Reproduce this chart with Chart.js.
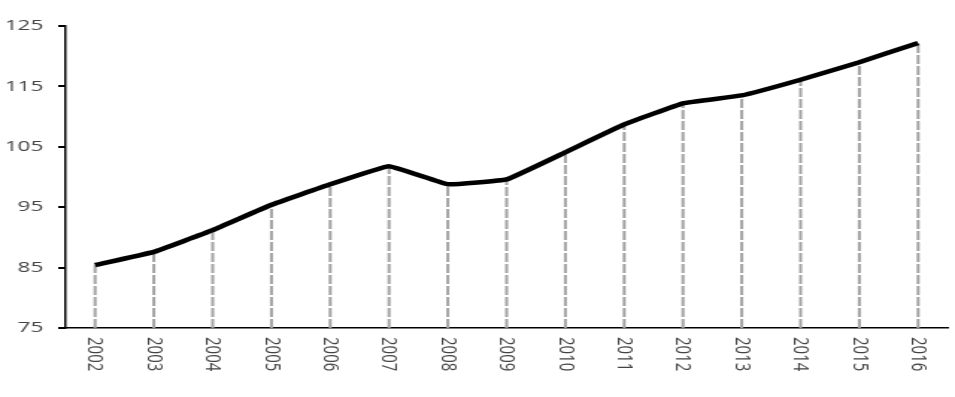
<!DOCTYPE html>
<html lang="en">
<head>
    <meta charset="UTF-8">
    <title>Chart</title>
    <script src="https://cdn.jsdelivr.net/npm/chart.js"></script>
    <style>
        body { margin: 0; background: #fff; }
    </style>
</head>
<body>
    <!-- drawn narrow, then stretched wide like the original picture -->
    <canvas id="myChart" width="640" height="397" style="width:955px;height:397px;display:block"></canvas>
<script>
    var years = ['2002', '2003', '2004', '2005', '2006', '2007', '2008', '2009',
                 '2010', '2011', '2012', '2013', '2014', '2015', '2016'];
    var values = [85.4, 87.6, 91.2, 95.4, 98.8, 101.8, 98.8, 99.6,
                  104.1, 108.7, 112.2, 113.5, 116.1, 119.0, 122.2];
    var yTicks = [75, 85, 95, 105, 115, 125];

    var labelFont = '15px "Open Sans"';
    var labelColor = '#444';

    // grey dashed line from each point down to the axis
    var dropLines = {
        id: 'dropLines',
        beforeDatasetsDraw(chart) {
            var ctx = chart.ctx;
            var bottom = chart.chartArea.bottom;
            ctx.save();
            ctx.strokeStyle = '#a3a3a3';
            ctx.lineWidth = 2;
            ctx.setLineDash([9, 2]);
            chart.getDatasetMeta(0).data.forEach(function(p){
                ctx.beginPath();
                ctx.moveTo(p.x, bottom);
                ctx.lineTo(p.x, p.y);
                ctx.stroke();
            });
            ctx.restore();
        }
    };

    // year labels turned clockwise, reading downward
    var yearLabels = {
        id: 'yearLabels',
        afterDraw(chart) {
            var ctx = chart.ctx;
            var xs = chart.scales.x;
            ctx.save();
            ctx.font = labelFont;
            ctx.fillStyle = labelColor;
            ctx.textAlign = 'left';
            ctx.textBaseline = 'middle';
            years.forEach(function(y, i){
                ctx.save();
                ctx.translate(xs.getPixelForValue(i), chart.chartArea.bottom + 9);
                ctx.rotate(Math.PI / 2);
                ctx.fillText(y, 0, 0);
                ctx.restore();
            });
            ctx.restore();
        }
    };

    new Chart(document.getElementById('myChart'), {
        type: 'line',
        data: {
            labels: years,
            datasets: [{
                data: values,
                borderColor: '#000',
                borderWidth: 4.5,
                pointRadius: 0,
                tension: 0.08,
                fill: false
            }]
        },
        options: {
            responsive: false,
            devicePixelRatio: 1,
            animation: false,
            layout: { padding: { top: 26, right: 5, bottom: 69, left: 0 } },
            plugins: { legend: { display: false }, tooltip: { enabled: false } },
            scales: {
                x: {
                    offset: true,
                    grid: { display: false, drawTicks: false },
                    ticks: { display: false },
                    border: { display: true, color: '#000', width: 1.5 }
                },
                y: {
                    min: 75,
                    max: 125,
                    afterFit(scale) { scale.width = 44; },
                    afterBuildTicks(scale) {
                        scale.ticks = yTicks.map(function(v){ return { value: v }; });
                    },
                    grid: {
                        drawOnChartArea: false,
                        drawTicks: true,
                        tickLength: 5,
                        color: '#000',
                        lineWidth: 2
                    },
                    border: { display: true, color: '#000', width: 1.5 },
                    ticks: {
                        padding: 10,
                        color: labelColor,
                        font: { family: 'Open Sans', size: 15 }
                    }
                }
            }
        },
        plugins: [dropLines, yearLabels]
    });
</script>
</body>
</html>
